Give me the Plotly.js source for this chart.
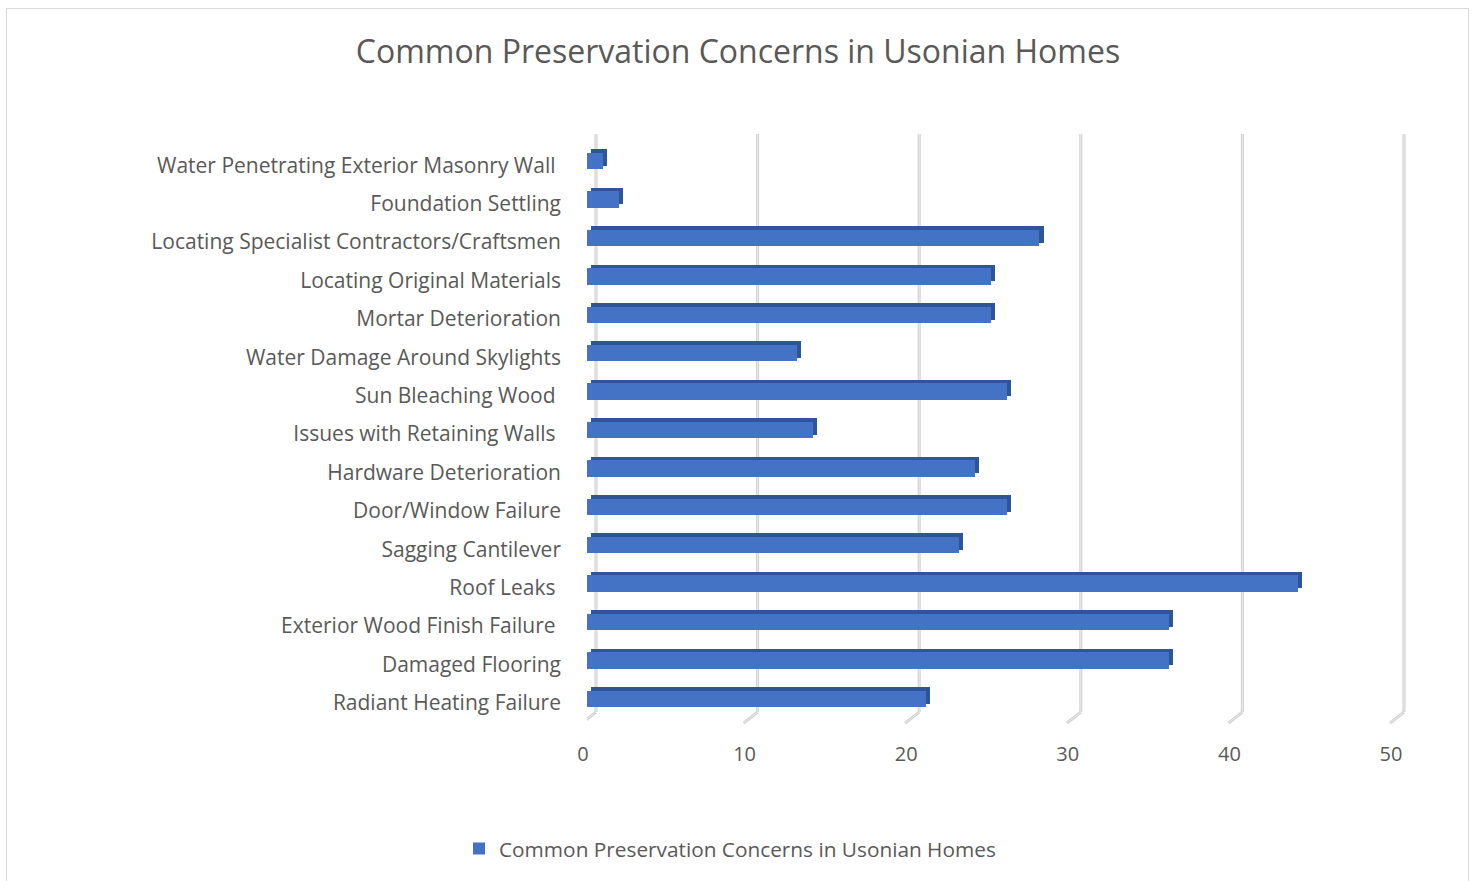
<!DOCTYPE html>
<html>
<head>
<meta charset="utf-8">
<script src="https://cdn.plot.ly/plotly-3.0.1.min.js"></script>
<style>
  html, body { margin: 0; padding: 0; background: #ffffff; }
  #chart { width: 1476px; height: 881px; }
  #frame { position: absolute; left: 6px; top: 8px; width: 1461px; height: 880px; border: 1px solid #d9d9d9; pointer-events: none; }
</style>
</head>
<body>
<div id="chart"></div>
<div id="frame"></div>
<script>
// Categories, bottom to top (as Excel lists them)
const categories = [
  "Radiant Heating Failure",
  "Damaged Flooring",
  "Exterior Wood Finish Failure ",
  "Roof Leaks ",
  "Sagging Cantilever",
  "Door/Window Failure",
  "Hardware Deterioration",
  "Issues with Retaining Walls ",
  "Sun Bleaching Wood ",
  "Water Damage Around Skylights",
  "Mortar Deterioration",
  "Locating Original Materials",
  "Locating Specialist Contractors/Craftsmen",
  "Foundation Settling",
  "Water Penetrating Exterior Masonry Wall "
];
const values = [21, 36, 36, 44, 23, 26, 24, 14, 26, 13, 25, 25, 28, 2, 1];
const seriesName = "Common Preservation Concerns in Usonian Homes";
const chartTitle = "Common Preservation Concerns in Usonian Homes";
const xTicks = [0, 10, 20, 30, 40, 50];
const xTickLabels = ["0", "10", "20", "30", "40", "50"];

const labelColor = "#595959";
const fontFam = "'Open Sans', 'Noto Sans', sans-serif";

// 3D-look helpers (style only)
const depthX = 0.25;      // side face depth in x units
const backShift = 0.557;  // back wall offset in x units

const traces = [
  { // dark side / top faces
    type: "bar", orientation: "h",
    y: categories, x: values,
    base: depthX,
    width: 0.43, offset: -0.02,
    marker: { color: "#2F5597", line: { width: 0 } },
    showlegend: false, hoverinfo: "skip"
  },
  { // front face
    type: "bar", orientation: "h",
    y: categories, x: values,
    name: seriesName,
    width: 0.43, offset: -0.111,
    marker: { color: "#4472C4", line: { width: 0 } }
  }
];

// back-wall gridlines and floor edges drawn from the tick values
const shapes = [];
const yTop = 1.021, yBot = 0.0172;
xTicks.forEach(t => {
  shapes.push({ type: "line", layer: "below", xref: "x", yref: "paper",
    x0: t + backShift, x1: t + backShift, y0: yBot, y1: yTop,
    line: { color: "#d0d0d0", width: 3 } });
  shapes.push({ type: "line", layer: "below", xref: "x", yref: "paper",
    x0: t + backShift, x1: t + backShift, y0: yBot, y1: yTop,
    line: { color: "#ececec", width: 1 } });
  shapes.push({ type: "line", layer: "below", xref: "x", yref: "paper",
    xsizemode: "pixel", xanchor: t + backShift, x0: 0, x1: -14,
    ysizemode: "pixel", yanchor: yBot, y0: 0, y1: -11,
    line: { color: "#d0d0d0", width: 3 } });
  shapes.push({ type: "line", layer: "below", xref: "x", yref: "paper",
    xsizemode: "pixel", xanchor: t + backShift, x0: 0, x1: -14,
    ysizemode: "pixel", yanchor: yBot, y0: 0, y1: -11,
    line: { color: "#ececec", width: 1 } });
});

const layout = {
  width: 1476, height: 881,
  paper_bgcolor: "#ffffff", plot_bgcolor: "#ffffff",
  margin: { l: 587, r: 66, t: 146, b: 159, pad: 0 },
  barmode: "overlay",
  title: {
    text: chartTitle,
    font: { family: fontFam, size: 32, color: labelColor },
    x: 0.5, xref: "container", xanchor: "center",
    y: 1 - 52 / 881, yref: "container", yanchor: "middle"
  },
  xaxis: {
    range: [0, (1410 - 587) / 16.16],
    tickvals: xTicks, ticktext: xTickLabels,
    showgrid: false, zeroline: false, showline: false, ticks: "",
    ticklabelshift: -4, ticklabelstandoff: 18,
    tickfont: { family: fontFam, size: 20, color: labelColor },
    fixedrange: true
  },
  yaxis: {
    type: "category",
    range: [-0.5, 14.5],
    showgrid: false, zeroline: false, showline: false, ticks: "",
    ticklabelstandoff: 25,
    tickfont: { family: fontFam, size: 21, color: labelColor },
    fixedrange: true
  },
  shapes: shapes,
  showlegend: true,
  legend: {
    orientation: "h",
    x: 459 / 1476, xref: "container", xanchor: "left",
    y: 1 - 849 / 881, yref: "container", yanchor: "middle",
    font: { family: fontFam, size: 20.8, color: labelColor },
    bgcolor: "rgba(0,0,0,0)"
  },
  bargap: 0
};

Plotly.newPlot("chart", traces, layout, { displayModeBar: false, staticPlot: true });
</script>
</body>
</html>
